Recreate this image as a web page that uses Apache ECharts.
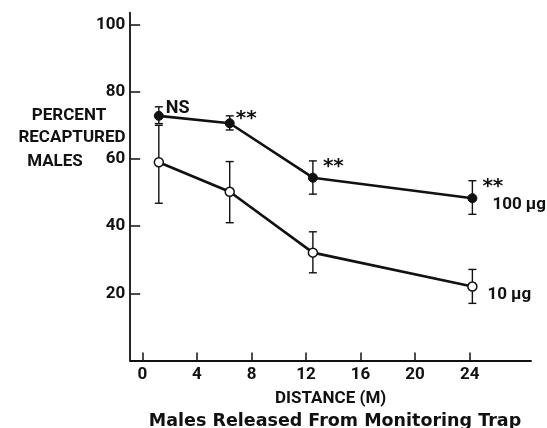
<!DOCTYPE html>
<html>
<head>
<meta charset="utf-8">
<script src="https://cdn.jsdelivr.net/npm/echarts@6/dist/echarts.min.js"></script>
<style>
html,body{margin:0;padding:0;background:#fff;}
#c{width:547px;height:428px;}
</style>
</head>
<body>
<div id="c"></div>
<script>
// ---- data ----
var distances = [1.2, 6.4, 12.5, 24.2];
var high100 = [72.8, 70.6, 54.4, 48.3];
var high100Upper = [75.5, 72.8, 59.4, 53.5];
var high100Lower = [70.5, 68.6, 49.5, 43.5];
var low10 = [59.0, 50.2, 32.1, 22.0];
var low10Upper = [70.0, 59.2, 38.3, 27.1];
var low10Lower = [46.8, 41.0, 26.1, 17.0];
var significance = ['NS', '**', '**', '**'];
var xTicks = [0, 4, 8, 12, 16, 20, 24];
var yTicks = [20, 40, 60, 80, 100];
var seriesNames = ['100 µg', '10 µg'];

var FONT = 'Roboto';
var WIDE = 'DejaVu Sans';
var INK = '#111';

// label placement (style only)
var annotStyle = [
  {distance: 2, offset: [0, -7]},
  {distance: 1, offset: [0, -4]},
  {distance: 5, offset: [0, -11]},
  {distance: 5, offset: [0, -11]}
];

function pairs(ys) { return distances.map(function (x, i) { return [x, ys[i]]; }); }

var highData = distances.map(function (x, i) {
  var a = annotStyle[i];
  var isNS = significance[i] === 'NS';
  return {
    value: [x, high100[i]],
    label: {
      show: true, formatter: significance[i], position: 'right',
      distance: a.distance, offset: a.offset,
      fontFamily: isNS ? FONT : WIDE, fontWeight: 'bold', fontSize: isNS ? 18 : 20, color: INK
    }
  };
});

function errData(up, lo) { return distances.map(function (x, i) { return [x, lo[i], up[i]]; }); }

function errRender(params, api) {
  var x = api.value(0);
  var lo = api.coord([x, api.value(1)]);
  var hi = api.coord([x, api.value(2)]);
  var w = 4;
  var st = {stroke: INK, lineWidth: 1.4};
  return {
    type: 'group',
    children: [
      {type: 'line', shape: {x1: hi[0], y1: hi[1], x2: lo[0], y2: lo[1]}, style: st},
      {type: 'line', shape: {x1: hi[0] - w, y1: hi[1], x2: hi[0] + w, y2: hi[1]}, style: st},
      {type: 'line', shape: {x1: lo[0] - w, y1: lo[1], x2: lo[0] + w, y2: lo[1]}, style: st}
    ]
  };
}

var nameStyle = {fontFamily: FONT, fontSize: 17, fontWeight: 'bold', color: INK};

var chart = echarts.init(document.getElementById('c'), null, {renderer: 'canvas'});
chart.setOption({
  animation: false,
  backgroundColor: '#fff',
  textStyle: {fontFamily: FONT, color: INK},
  grid: {left: 130.2, right: 16, top: 12.7, bottom: 67.5, containLabel: false},
  title: [
    {text: 'PERCENT', left: 64, top: 102, textAlign: 'center', textStyle: nameStyle},
    {text: 'RECAPTURED', left: 67, top: 124, textAlign: 'center', textStyle: nameStyle},
    {text: 'MALES', left: 50, top: 148, textAlign: 'center', textStyle: nameStyle},
    {text: 'Males Released From Monitoring Trap', left: 330, top: 407, textAlign: 'center',
     textStyle: {fontFamily: WIDE, fontSize: 17.5, fontWeight: 'bold', color: INK}}
  ],
  xAxis: {
    type: 'value', min: -0.9, max: 28.5,
    name: 'DISTANCE (M)', nameLocation: 'middle', nameGap: 30,
    nameTextStyle: nameStyle,
    axisLine: {show: true, onZero: false, lineStyle: {color: INK, width: 1.8}},
    axisTick: {show: true, inside: true, length: 8, customValues: xTicks, lineStyle: {color: INK, width: 1.5}},
    axisLabel: {show: true, customValues: xTicks, margin: 6, fontFamily: FONT, fontWeight: 'bold', fontSize: 17, color: INK},
    splitLine: {show: false}
  },
  yAxis: {
    type: 'value', min: 0, max: 103.5,
    axisLine: {show: true, onZero: false, lineStyle: {color: INK, width: 1.8}},
    axisTick: {show: true, inside: true, length: 10, customValues: yTicks, lineStyle: {color: INK, width: 1.5}},
    axisLabel: {show: true, customValues: yTicks, margin: 5, fontFamily: FONT, fontWeight: 'bold', fontSize: 17, color: INK},
    splitLine: {show: false}
  },
  series: [
    {type: 'custom', name: 'err100', renderItem: errRender, data: errData(high100Upper, high100Lower), z: 1, silent: true},
    {type: 'custom', name: 'err10', renderItem: errRender, data: errData(low10Upper, low10Lower), z: 1, silent: true},
    {
      type: 'line', name: seriesNames[0], data: highData, z: 3,
      symbol: 'circle', symbolSize: 9, showAllSymbol: true,
      lineStyle: {color: INK, width: 2.6},
      itemStyle: {color: INK, borderColor: INK, borderWidth: 1},
      endLabel: {show: true, formatter: seriesNames[0], distance: 5, offset: [15, 7],
                 fontFamily: FONT, fontWeight: 'bold', fontSize: 17, color: INK}
    },
    {
      type: 'line', name: seriesNames[1], data: pairs(low10), z: 3,
      symbol: 'circle', symbolSize: 9, showAllSymbol: true,
      lineStyle: {color: INK, width: 2.6},
      itemStyle: {color: '#fff', borderColor: INK, borderWidth: 1.5},
      endLabel: {show: true, formatter: seriesNames[1], distance: 5, offset: [10, 8],
                 fontFamily: FONT, fontWeight: 'bold', fontSize: 17, color: INK}
    }
  ]
});
</script>
</body>
</html>
